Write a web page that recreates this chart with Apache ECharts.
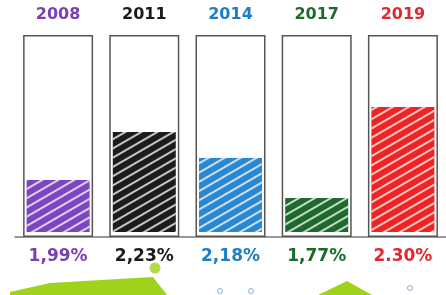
<!DOCTYPE html>
<html>
<head>
<meta charset="utf-8">
<script src="https://cdn.jsdelivr.net/npm/echarts@6/dist/echarts.min.js"></script>
<style>
  html, body { margin: 0; padding: 0; background: #fff; }
  #chart { width: 446px; height: 295px; }
</style>
</head>
<body>
<div id="chart"></div>
<script>
// data
const years = ["2008", "2011", "2014", "2017", "2019"];
const rateLabels = ["1,99%", "2,23%", "2,18%", "1,77%", "2.30%"];
const fillLevel = [25.7, 49.5, 36.6, 16.8, 61.9];   // % of box height
const textColors = ["#7b3fb5", "#1a1a1a", "#1c7fc4", "#1d6b2c", "#e0282e"];
const fillColors = ["#7c45c2", "#1c1c1c", "#2a88d2", "#1e6a2c", "#ee2424"];

// cropped decoration at the bottom edge
const greenLeft = [[10, 292], [50, 283], [153, 277], [167, 295]];
const greenRight = [[318, 295], [347, 281], [372, 295]];
const greenDot = [[155, 268]];
const blueDots = [[220, 291], [251, 291], [410, 288]];

const boxFull = years.map(() => 100);
const baseGap = years.map(() => 2.5);

const rich = {};
years.forEach((y, i) => {
    rich["y" + i] = { color: textColors[i], fontWeight: "bold", fontSize: 16, fontFamily: "DejaVu Sans" };
    rich["r" + i] = { color: textColors[i], fontWeight: "bold", fontSize: 17, fontFamily: "DejaVu Sans" };
});

const chart = echarts.init(document.getElementById("chart"));

chart.setOption({
    animation: false,
    grid: [
        { left: 15, right: 0, top: 35, bottom: 58 },
        { left: 0, right: 0, top: 258, bottom: 0 }
    ],
    xAxis: [
        {
            type: "category", data: years, position: "top", gridIndex: 0,
            axisLine: { show: false }, axisTick: { show: false },
            axisLabel: { margin: 12, formatter: (v, i) => `{y${i}|${v}}`, rich: rich }
        },
        {
            type: "category", data: rateLabels, position: "bottom", gridIndex: 0,
            axisLine: { show: true, lineStyle: { color: "#777", width: 1.5 } },
            axisTick: { show: false },
            axisLabel: { margin: 11, formatter: (v, i) => `{r${i}|${v}}`, rich: rich }
        },
        { type: "value", gridIndex: 1, min: 0, max: 446, show: false }
    ],
    yAxis: [
        { type: "value", min: 0, max: 100, show: false, gridIndex: 0 },
        { type: "value", min: 258, max: 295, inverse: true, show: false, gridIndex: 1 }
    ],
    series: [
        {
            type: "bar", xAxisIndex: 0, yAxisIndex: 0, data: boxFull, barWidth: 70, z: 1,
            itemStyle: { color: "rgba(0,0,0,0)", borderColor: "#555", borderWidth: 1.5 },
            silent: true
        },
        {
            type: "bar", xAxisIndex: 1, yAxisIndex: 0, stack: "fill", data: baseGap, barWidth: 63, z: 2,
            itemStyle: { color: "rgba(0,0,0,0)" }, silent: true
        },
        {
            type: "bar", xAxisIndex: 1, yAxisIndex: 0, stack: "fill", barWidth: 63, z: 2,
            data: fillLevel.map((v, i) => ({
                value: v,
                itemStyle: {
                    color: fillColors[i],
                    decal: {
                        symbol: "rect", symbolSize: 1,
                        color: "rgba(255,255,255,0.75)",
                        dashArrayX: [1, 0], dashArrayY: [2, 6],
                        rotation: -Math.PI / 6
                    }
                }
            }))
        },
        {
            type: "line", xAxisIndex: 2, yAxisIndex: 1, data: greenLeft, symbol: "none",
            lineStyle: { width: 0 }, areaStyle: { color: "#9fd21a", origin: "end", opacity: 1 }
        },
        {
            type: "line", xAxisIndex: 2, yAxisIndex: 1, data: greenRight, symbol: "none",
            lineStyle: { width: 0 }, areaStyle: { color: "#9fd21a", origin: "end", opacity: 1 }
        },
        {
            type: "scatter", xAxisIndex: 2, yAxisIndex: 1, data: greenDot, symbolSize: 11,
            itemStyle: { color: "#9fd21a" }
        },
        {
            type: "scatter", xAxisIndex: 2, yAxisIndex: 1, data: blueDots, symbolSize: 5,
            itemStyle: { color: "#fff", borderColor: "#6a9fd0", borderWidth: 1 }
        }
    ]
});
</script>
</body>
</html>
